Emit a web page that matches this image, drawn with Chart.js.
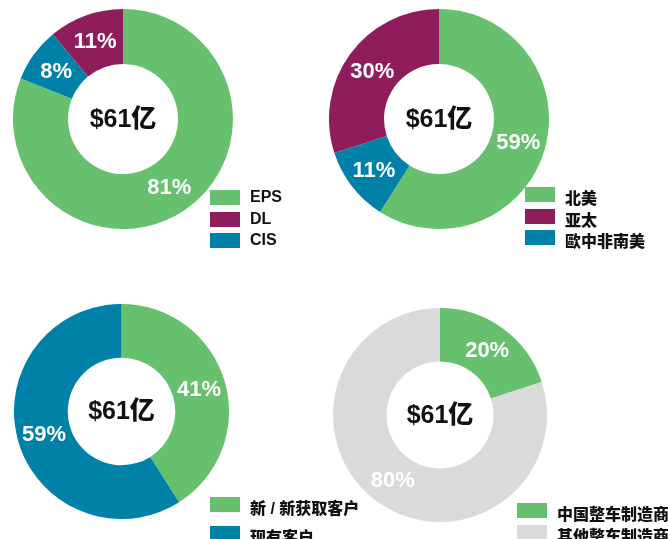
<!DOCTYPE html>
<html>
<head>
<meta charset="utf-8">
<script src="https://cdn.jsdelivr.net/npm/chart.js@4"></script>
<style>
    body { margin: 0; width: 668px; height: 539px; background: #fff; position: relative; overflow: hidden;
           font-family: "Liberation Sans", "Noto Sans CJK SC", Arial, sans-serif; }
    canvas { position: absolute; }
    .legend { position: absolute; font-weight: 900; font-size: 16px; color: #111; }
    .legend div { position: relative; height: 15px; margin-bottom: 6.5px; }
    .legend span.box { position: absolute; left: 0; top: 0; width: 30px; height: 15px; }
    .legend span.txt { position: absolute; top: -2px; white-space: nowrap; }
</style>
</head>
<body>
<canvas id="c1" width="220" height="220" style="left:13px;top:9px"></canvas>
<canvas id="c2" width="220" height="220" style="left:329px;top:9px"></canvas>
<canvas id="c3" width="215" height="215" style="left:14px;top:304px"></canvas>
<canvas id="c4" width="214" height="214" style="left:333px;top:308px"></canvas>
<div id="l1" class="legend" style="left:210px;top:190px"></div>
<div id="l2" class="legend" style="left:525px;top:187px"></div>
<div id="l3" class="legend" style="left:210px;top:497px"></div>
<div id="l4" class="legend" style="left:517px;top:503px"></div>
<script>
// colours
const GREEN = "#67c06d";
const PURPLE = "#8f1d5c";
const BLUE = "#0081a7";
const GRAY = "#dadada";

// centre label (same for all four)
const totalLabel = "$61亿";

// chart 1 - by segment (legend order)
const segLabels = ["EPS", "DL", "CIS"];
const segValues = [81, 11, 8];
const segColors = [GREEN, PURPLE, BLUE];
const segOrder = [0, 2, 1]; // clockwise from top

// chart 2 - by region
const regionLabels = ["北美", "亚太", "歐中非南美"];
const regionValues = [59, 30, 11];
const regionColors = [GREEN, PURPLE, BLUE];
const regionOrder = [0, 2, 1];

// chart 3 - by customer
const custLabels = ["新 / 新获取客户", "现有客户"];
const custValues = [41, 59];
const custColors = [GREEN, BLUE];
const custOrder = [0, 1];

// chart 4 - by OEM
const oemLabels = ["中国整车制造商", "其他整车制造商"];
const oemValues = [20, 80];
const oemColors = [GREEN, GRAY];
const oemOrder = [0, 1];

// draws the % on each slice and the total in the hole
const labelPlugin = {
    id: "donutLabels",
    afterDatasetsDraw(chart) {
        const ctx = chart.ctx;
        const meta = chart.getDatasetMeta(0);
        ctx.save();
        ctx.textAlign = "center";
        ctx.textBaseline = "middle";
        ctx.fillStyle = "#fff";
        ctx.font = "bold 22px 'Liberation Sans', Arial, sans-serif";
        meta.data.forEach((arc, i) => {
            const p = arc.tooltipPosition();
            ctx.fillText(chart.data.datasets[0].data[i] + "%", p.x, p.y + 1);
        });
        const a = chart.chartArea;
        ctx.fillStyle = "#111";
        ctx.font = "900 25px 'Liberation Sans', 'Noto Sans CJK SC', Arial, sans-serif";
        ctx.fillText(totalLabel, (a.left + a.right) / 2, (a.top + a.bottom) / 2 + 1);
        ctx.restore();
    }
};

function makeDonut(canvasId, legendId, labels, values, colors, order) {
    new Chart(document.getElementById(canvasId), {
        type: "doughnut",
        data: {
            labels: order.map((i) => labels[i]),
            datasets: [{
                data: order.map((i) => values[i]),
                backgroundColor: order.map((i) => colors[i]),
                borderWidth: 0,
            }],
        },
        options: {
            responsive: false,
            animation: false,
            cutout: "50%",
            layout: { padding: 0 },
            plugins: { legend: { display: false }, tooltip: { enabled: false } },
        },
        plugins: [labelPlugin],
    });

    // legend in its original order
    const box = document.getElementById(legendId);
    labels.forEach((name, i) => {
        const row = document.createElement("div");
        row.innerHTML = `<span class="box" style="background:${colors[i]}"></span><span class="txt" style="left:40px">${name}</span>`;
        box.appendChild(row);
    });
}

makeDonut("c1", "l1", segLabels, segValues, segColors, segOrder);
makeDonut("c2", "l2", regionLabels, regionValues, regionColors, regionOrder);
makeDonut("c3", "l3", custLabels, custValues, custColors, custOrder);
makeDonut("c4", "l4", oemLabels, oemValues, oemColors, oemOrder);

// lower legends are spaced wider
document.querySelectorAll("#l3 div").forEach((d) => (d.style.marginBottom = "14px"));
document.querySelectorAll("#l4 div").forEach((d) => (d.style.marginBottom = "7px"));
</script>
</body>
</html>
